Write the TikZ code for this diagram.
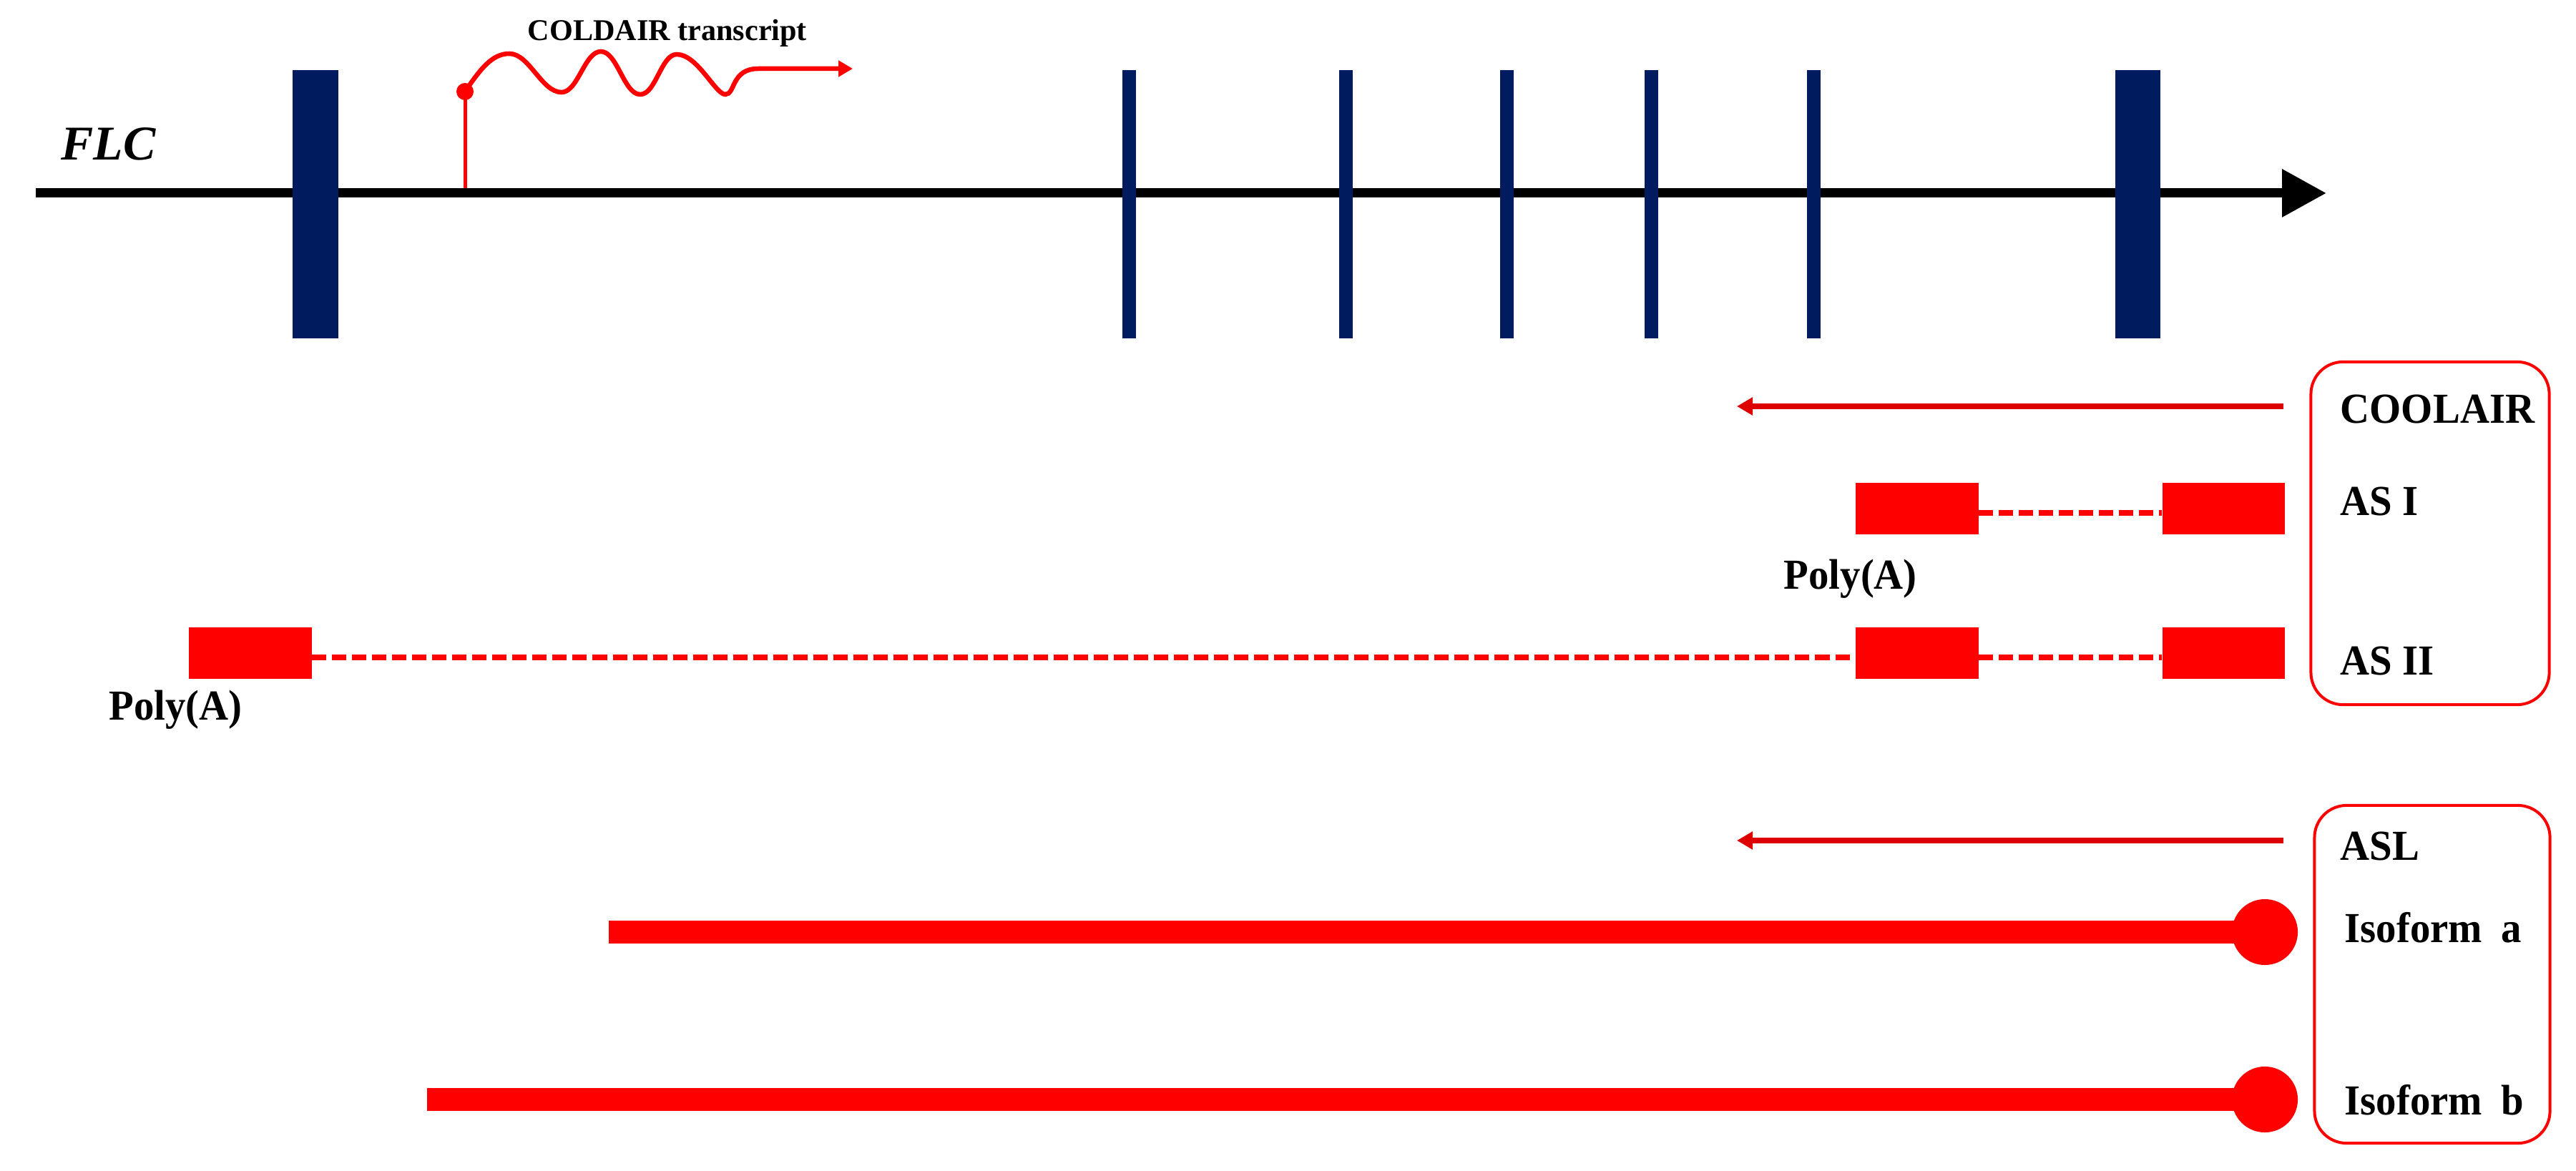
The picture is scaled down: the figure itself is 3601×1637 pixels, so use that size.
\documentclass[tikz,border=0pt]{standalone}
\usepackage{fontspec}
\setmainfont{Liberation Serif}
\newfontfamily\condserif[FakeStretch=0.95]{Liberation Serif}
\usetikzlibrary{arrows.meta}
\definecolor{navy}{RGB}{0,27,94}
\definecolor{arrowred}{RGB}{222,0,0}
\begin{document}
\begin{tikzpicture}[x=0.01cm,y=-0.01cm,
  exon/.style={fill=navy, draw=none, inner sep=0, minimum height=3.75cm},
  lbl/.style={anchor=base west, inner sep=0, font=\condserif\fontsize{17}{20}\selectfont\bfseries},
  redbox/.style={fill=red, draw=none, inner sep=0, minimum width=1.71cm, minimum height=0.72cm},
  dashline/.style={red, line width=0.08cm, dash pattern=on 0.2cm off 0.08cm},
  txarrow/.style={arrowred, line width=0.08cm, -{Triangle[length=0.22cm,width=0.24cm]}},
  isobar/.style={red, line width=0.32cm},
  capdot/.style={circle, fill=red, draw=none, inner sep=0, minimum size=0.92cm},
  legend/.style={draw=red, line width=0.04cm, rounded corners=0.45cm, inner sep=0, fill=none}
]
\useasboundingbox (0,0) rectangle (3601,1637);

% COLDAIR transcript
\coordinate (cdbase) at (650,266);
\node[circle, fill=red, draw=none, inner sep=0, minimum size=0.24cm] (cddot) at (650,128) {};
\draw[red, line width=0.05cm] (cdbase) -- (cddot.center);
\coordinate (cdtip) at (1192,96);
\draw[red, line width=0.065cm, -{Triangle[length=0.2cm,width=0.22cm]}]
  (cddot.center) .. controls (672,96) and (688,75) .. (712,75)
  .. controls (740,75) and (757,129) .. (785,129)
  .. controls (808,129) and (817,72) .. (840,72)
  .. controls (863,72) and (872,132) .. (895,132)
  .. controls (917,132) and (924,76) .. (946,76)
  .. controls (975,76) and (1000,132) .. (1014,132)
  .. controls (1028,132) and (1022,96) .. (1060,96)
  -- (cdtip);
\node[anchor=base west, inner sep=0, font=\fontsize{12}{14}\selectfont\bfseries] (cdlabel) at (737,57) {COLDAIR transcript};

% FLC axis
\coordinate (flcL) at (50,270);
\coordinate (flcR) at (3252,270);
\draw[line width=0.13cm, -{Triangle[length=0.62cm,width=0.64cm]}] (flcL) -- (flcR);
\node[anchor=base west, inner sep=0, font=\fontsize{19.3}{22}\selectfont\bfseries\itshape] (flc) at (85,224) {FLC};

% exons
\node[exon, minimum width=0.64cm] (e1) at (441,285.5) {};
\node[exon, minimum width=0.19cm] (e2) at (1578,285.5) {};
\node[exon, minimum width=0.19cm] (e3) at (1881,285.5) {};
\node[exon, minimum width=0.19cm] (e4) at (2106,285.5) {};
\node[exon, minimum width=0.19cm] (e5) at (2308,285.5) {};
\node[exon, minimum width=0.19cm] (e6) at (2535,285.5) {};
\node[exon, minimum width=0.63cm] (e7) at (2988,285.5) {};

% legend boxes
\node[legend, minimum width=3.33cm, minimum height=4.79cm] (leg1) at (3397,745.5) {};
\node[legend, minimum width=3.29cm, minimum height=4.72cm] (leg2) at (3400,1362) {};

% COOLAIR
\coordinate (coolR) at (3192,568);
\coordinate (coolL) at (2428,568);
\draw[txarrow] (coolR) -- (coolL);
\node[lbl] (coolairlbl) at (3271,591) {COOLAIR};

% AS I
\node[redbox] (as1a) at (2680,711) {};
\node[redbox] (as1b) at (3108,711) {};
\draw[dashline] ([yshift=-0.06cm]as1a.east) -- ([yshift=-0.06cm]as1b.west);
\node[lbl] (as1lbl) at (3271,720) {AS I};
\node[lbl] (pa1) at (2493,823) {Poly(A)};

% AS II
\node[redbox] (as2p) at (350,913) {};
\node[redbox] (as2a) at (2680,913) {};
\node[redbox] (as2b) at (3108,913) {};
\draw[dashline] ([yshift=-0.06cm]as2p.east) -- ([yshift=-0.06cm]as2a.west);
\draw[dashline] ([yshift=-0.06cm]as2a.east) -- ([yshift=-0.06cm]as2b.west);
\node[lbl] (as2lbl) at (3271,943) {AS II};
\node[lbl] (pa2) at (152,1006) {Poly(A)};

% ASL
\coordinate (aslR) at (3192,1175);
\coordinate (aslL) at (2428,1175);
\draw[txarrow] (aslR) -- (aslL);
\node[lbl] (asllbl) at (3271,1202) {ASL};

% isoforms
\node[capdot] (dota) at (3166,1303) {};
\coordinate (isoa) at (851,1303);
\draw[isobar] (isoa) -- (dota.center);
\node[lbl] (isoalbl) at (3277,1317) {Isoform\hspace{0.26cm}a};

\node[capdot] (dotb) at (3166,1537) {};
\coordinate (isob) at (597,1537);
\draw[isobar] (isob) -- (dotb.center);
\node[lbl] (isoblbl) at (3277,1558) {Isoform\hspace{0.26cm}b};
\end{tikzpicture}
\end{document}
